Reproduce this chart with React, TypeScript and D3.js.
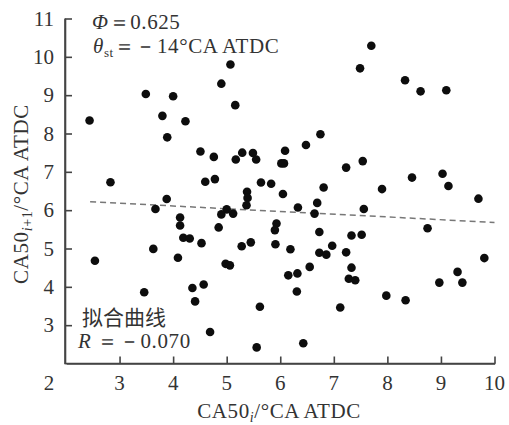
import React, { useEffect, useRef } from 'react';
import * as d3 from 'd3';

// CA50 of cycle i vs cycle i+1
const ca50i = [
  5.07, 4.9, 5.16, 6.75, 3.49, 4.0, 2.44, 3.8, 4.23, 3.89,
  7.7, 7.49, 8.33, 8.62, 9.1, 4.51, 2.83, 4.6, 4.78, 4.76,
  3.88, 3.67, 4.13, 4.13, 4.19, 4.31, 4.53, 3.63, 5.17, 5.29,
  5.49, 5.55, 6.09, 6.02, 6.07, 6.48, 7.23, 5.64, 5.83, 6.05,
  6.81, 5.38, 5.39, 5.37, 6.69, 6.33, 6.64, 5.0, 4.9, 5.12,
  4.85, 5.93, 5.9, 6.73, 5.28, 5.45, 5.91, 6.19, 6.97, 7.23,
  7.33, 7.54, 7.9, 8.46, 9.03, 9.14, 9.7, 7.56, 8.75, 7.52,
  9.81, 9.31, 7.33, 6.73, 6.86, 6.55, 6.15, 6.32, 4.09, 2.54,
  4.98, 5.06, 3.46, 4.36, 4.57, 4.41, 5.62, 4.69, 5.56, 6.43,
  6.31, 7.12, 7.28, 7.4, 7.98, 8.34, 8.97, 9.4,
];
const ca50next = [
  9.8, 9.3, 8.74, 7.98, 9.03, 8.97, 8.34, 8.46, 8.32, 7.9,
  10.29, 9.7, 9.39, 9.1, 9.13, 7.53, 6.73, 6.74, 6.81, 7.39,
  6.29, 6.03, 5.81, 5.6, 5.28, 5.26, 5.14, 4.99, 7.32, 7.5,
  7.49, 7.32, 7.55, 7.22, 7.22, 7.7, 7.11, 6.72, 6.69, 6.42,
  6.59, 6.48, 6.32, 6.13, 6.19, 6.07, 5.91, 6.02, 5.89, 5.91,
  5.55, 5.65, 5.48, 5.43, 5.06, 5.16, 5.11, 4.98, 5.07, 4.9,
  5.34, 7.28, 6.55, 6.85, 6.95, 6.63, 6.3, 6.03, 5.53, 5.36,
  4.75, 4.39, 4.5, 4.89, 4.84, 4.52, 4.3, 4.35, 4.76, 4.68,
  4.6, 4.56, 3.86, 3.97, 4.06, 3.62, 3.48, 2.82, 2.42, 2.53,
  3.88, 3.46, 4.21, 4.17, 3.77, 3.65, 4.11, 4.11,
];

// fitted line end points
const fitX = [2.45, 10];
const fitY = [6.22, 5.68];

const xTicks = [2, 3, 4, 5, 6, 7, 8, 9, 10];
const yTicks = [3, 4, 5, 6, 7, 8, 9, 10, 11];

const serif = '"Liberation Serif", "DejaVu Serif", serif';
const cjk = '"Noto Sans CJK SC", sans-serif';
const ink = '#333';

function App() {
  const ref = useRef<SVGGElement>(null);

  useEffect(() => {
    const svg = d3.select(ref.current);
    svg.selectAll('*').remove();

    const x = d3.scaleLinear().domain([2, 10]).range([66, 494.5]);
    const y = d3.scaleLinear().domain([2, 11]).range([363.5, 18.5]);

    // axes
    const xAxis = svg.append('g').attr('transform', 'translate(0,363.5)')
      .call(d3.axisBottom(x).tickValues(xTicks.filter(d => d > 2)).tickSizeInner(-7).tickSizeOuter(0).tickFormat(() => ''));
    const yAxis = svg.append('g').attr('transform', 'translate(65,0)')
      .call(d3.axisLeft(y).tickValues(yTicks).tickSizeInner(-7).tickSizeOuter(0).tickFormat(() => ''));
    [xAxis, yAxis].forEach(g => {
      g.selectAll('path, line').attr('stroke', '#444').attr('stroke-width', 1.6);
    });
    // axis lines drawn to the corner
    svg.append('line').attr('x1', 65).attr('x2', x(10) + 1).attr('y1', 363.5).attr('y2', 363.5)
      .attr('stroke', '#444').attr('stroke-width', 1.6);
    svg.append('line').attr('x1', 65).attr('x2', 65).attr('y1', y(11)).attr('y2', 364.3)
      .attr('stroke', '#444').attr('stroke-width', 1.6);

    // tick labels
    svg.append('g').selectAll('text').data(xTicks).join('text')
      .attr('x', d => (d === 2 ? x(d) - 17 : x(d)))
      .attr('y', 390)
      .attr('text-anchor', 'middle')
      .attr('font-family', serif).attr('font-size', 21).attr('fill', ink)
      .text(d => d);
    svg.append('g').selectAll('text').data(yTicks).join('text')
      .attr('x', 54)
      .attr('y', d => y(d) + 7)
      .attr('text-anchor', 'end')
      .attr('font-family', serif).attr('font-size', 21).attr('fill', ink)
      .text(d => d);

    // fit line
    const line = d3.line<number>().x((d, i) => x(fitX[i])).y(d => y(d));
    svg.append('path').datum(fitY).attr('d', line)
      .attr('fill', 'none').attr('stroke', '#777').attr('stroke-width', 1.5)
      .attr('stroke-dasharray', '6,4');

    // points
    svg.append('g').selectAll('circle').data(ca50i).join('circle')
      .attr('cx', d => x(d))
      .attr('cy', (d, i) => y(ca50next[i]))
      .attr('r', 4.3)
      .attr('fill', '#0d0d0d');
  }, []);

  return (
    <svg width={509} height={425}
      style={{ position: 'absolute', left: 0, top: 0, background: '#fff' }}>
      <g ref={ref} />
      {/* axis titles and notes */}
      <g fontFamily={serif} fill={ink} letterSpacing={0.6}>
        <text x={279} y={418} fontSize={21} textAnchor="middle">
          CA50<tspan fontStyle="italic" fontSize={14} dy={4}>i</tspan>
          <tspan dy={-4}>/°CA ATDC</tspan>
        </text>
        <text transform="translate(28,194) rotate(-90)" fontSize={21} textAnchor="middle">
          CA50<tspan fontSize={14} dy={4}><tspan fontStyle="italic">i</tspan>+1</tspan>
          <tspan dy={-4}>/°CA ATDC</tspan>
        </text>
        <text x={92} y={29} fontSize={21}>
          <tspan fontStyle="italic">Φ</tspan>＝0.625
        </text>
        <text x={93} y={53} fontSize={21}>
          <tspan fontStyle="italic">θ</tspan>
          <tspan fontSize={13} dy={4}>st</tspan>
          <tspan dy={-4}>＝－14°CA ATDC</tspan>
        </text>
        <text x={82} y={325} fontSize={21} fontFamily={cjk} letterSpacing={0}>拟合曲线</text>
        <text x={78} y={348} fontSize={21}>
          <tspan fontStyle="italic">R</tspan> ＝－0.070
        </text>
      </g>
    </svg>
  );
}

export default App;
